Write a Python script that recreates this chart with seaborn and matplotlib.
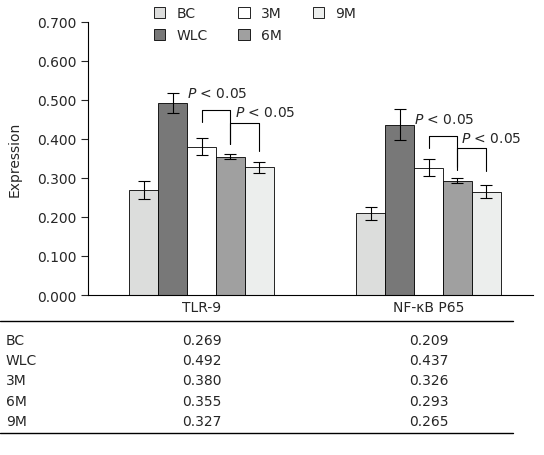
import numpy as np
import pandas as pd
import seaborn as sns
import matplotlib.pyplot as plt
from matplotlib.lines import Line2D
from matplotlib.transforms import blended_transform_factory

# data
markers = ["TLR-9", "NF-κB P65"]
groups = ["BC", "WLC", "3M", "6M", "9M"]
tlr9 = [0.269, 0.492, 0.380, 0.355, 0.327]
nfkb = [0.209, 0.437, 0.326, 0.293, 0.265]
tlr9_err = [0.024, 0.025, 0.022, 0.006, 0.015]
nfkb_err = [0.016, 0.039, 0.022, 0.006, 0.017]
colors = ["#dcdddc", "#787878", "#ffffff", "#a0a0a0", "#eceeed"]

# significance brackets: (marker, left group, right group, top, left leg end, right leg end)
brackets = [
    (0, "3M", "6M", 0.474, 0.444, 0.387),
    (0, "6M", "9M", 0.441, 0.387, 0.370),
    (1, "3M", "6M", 0.407, 0.377, 0.321),
    (1, "6M", "9M", 0.376, 0.327, 0.317),
]
# label anchor (x offset from left leg in category units, y value)
labels_pos = [(-0.065, 0.518), (0.02, 0.470), (-0.065, 0.450), (0.015, 0.402)]

df = pd.DataFrame({
    "marker": np.repeat(markers, len(groups)),
    "group": groups * len(markers),
    "value": tlr9 + nfkb,
})

sns.set_style("white")
plt.rcParams["font.family"] = ["DejaVu Sans"]
plt.rcParams["mathtext.fontset"] = "dejavusans"

fig = plt.figure(figsize=(5.44, 4.56), dpi=100)
ax = fig.add_axes([88 / 544, 1 - 296 / 456, 445 / 544, 273 / 456])

sns.barplot(data=df, x="marker", y="value", hue="group", hue_order=groups,
            palette=colors, width=0.635, edgecolor="black", linewidth=0.6,
            errorbar=None, ax=ax, legend=True)

errs = [tlr9_err, nfkb_err]
vals = [tlr9, nfkb]
centers = {}
bar_conts = list(ax.containers)
for gi, cont in enumerate(bar_conts):
    for mi, bar in enumerate(cont):
        x = bar.get_x() + bar.get_width() / 2
        centers[(mi, groups[gi])] = x
        ax.errorbar(x, vals[mi][gi], yerr=errs[mi][gi], color="black",
                    capsize=4, elinewidth=0.8, capthick=0.8)

for (mi, g1, g2, top, y1, y2), (dx, ty) in zip(brackets, labels_pos):
    x1, x2 = centers[(mi, g1)], centers[(mi, g2)]
    ax.plot([x1, x1, x2, x2], [y1, top, top, y2], color="black", lw=0.8)
    ax.text(x1 + dx, ty, r"$P$ < 0.05", fontsize=10, va="center", ha="left")

ax.set_xlim(-0.5, 1.46)
ax.set_ylim(0, 0.7)
ax.set_yticks(np.arange(0, 0.71, 0.1))
ax.set_yticklabels([f"{t:.3f}" for t in np.arange(0, 0.71, 0.1)], fontsize=10)
ax.set_xticks([])
ax.set_xlabel("")
ax.set_ylabel("Expression", fontsize=10, labelpad=11)
ax.tick_params(axis="y", direction="out", length=5, width=0.8, left=True)
sns.despine(ax=ax)
for s in ["left", "bottom"]:
    ax.spines[s].set_linewidth(0.8)
    ax.spines[s].set_color("black")

handles, labs = ax.get_legend_handles_labels()
ax.legend(handles[:5], labs[:5], ncol=3, frameon=False, fontsize=10,
          loc="upper left", bbox_to_anchor=(141 / 544, 1 + 5 / 456),
          bbox_transform=fig.transFigure, handlelength=0.85, handleheight=0.85,
          columnspacing=2.2, labelspacing=0.55, handletextpad=0.8)

# table below the chart
tx = blended_transform_factory(ax.transData, fig.transFigure)
for mi, m in enumerate(markers):
    fig.text(mi, 1 - 308 / 456, m, transform=tx, ha="center", va="center", fontsize=10)
row_y = [341, 361, 381, 402, 422]
for gi, g in enumerate(groups):
    y = 1 - row_y[gi] / 456
    fig.text(6 / 544, y, g, ha="left", va="center", fontsize=10)
    for mi in range(len(markers)):
        fig.text(mi, y, f"{vals[mi][gi]:.3f}", transform=tx, ha="center",
                 va="center", fontsize=10)
for yl in [322, 434]:
    fig.add_artist(Line2D([0, 513 / 544], [1 - yl / 456] * 2, color="black",
                          lw=1.0, transform=fig.transFigure))

fig.savefig("out.png", dpi=100)
